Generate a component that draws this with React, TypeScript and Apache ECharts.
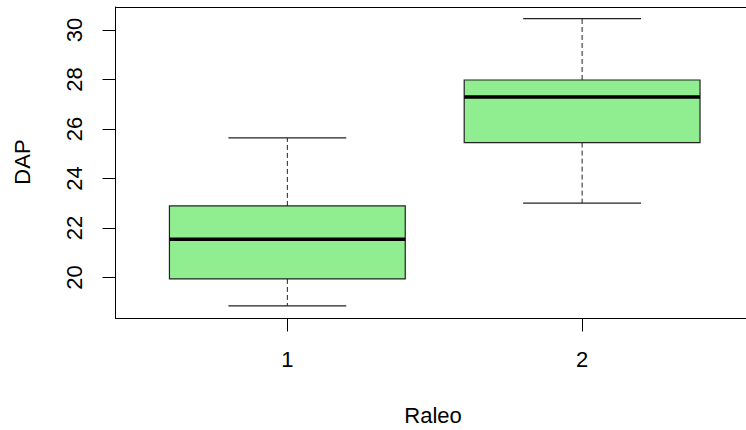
import React, { useEffect, useRef } from "react";
import * as echarts from "echarts";

const groups = [1, 2];
const groupLabels = ["1", "2"];
const mins = [18.85, 23.0];
const q1s = [19.94, 25.45];
const medians = [21.54, 27.29];
const q3s = [22.89, 27.98];
const maxs = [25.64, 30.46];
const yTicks = [20, 22, 24, 26, 28, 30];

const FONT = "'Liberation Sans', Arial, sans-serif";
const X_MIN = 0.417;
const X_MAX = 2.556;

export default function App() {
  const ref = useRef<HTMLDivElement>(null);
  useEffect(() => {
    if (!ref.current) return;
    const chart = echarts.init(ref.current, null, { renderer: "svg" });
    const data = groups.map((g, i) => [g, mins[i], q1s[i], medians[i], q3s[i], maxs[i]]);
    chart.setOption({
      animation: false,
      backgroundColor: "#ffffff",
      grid: {
        left: 115.5,
        right: 0,
        top: 7,
        bottom: 111.5,
        show: false,
      },
      xAxis: [
        {
          type: "value",
          min: X_MIN,
          max: X_MAX,
          position: "bottom",
          axisLine: { show: true, onZero: false, lineStyle: { color: "#000", width: 1 } },
          splitLine: { show: false },
          axisTick: {
            show: true,
            length: 13,
            customValues: groups,
            lineStyle: { color: "#000", width: 1 },
          },
          axisLabel: {
            customValues: groups,
            formatter: (v: number) => groupLabels[groups.indexOf(Math.round(v))] ?? "",
            margin: 30,
            color: "#000",
            fontSize: 22,
            fontFamily: FONT,
          },
        },
        {
          type: "value",
          min: X_MIN,
          max: X_MAX,
          position: "top",
          axisLine: { show: true, onZero: false, lineStyle: { color: "#000", width: 1 } },
          splitLine: { show: false },
          axisTick: { show: false },
          axisLabel: { show: false },
        },
      ],
      yAxis: {
        type: "value",
        min: 18.34,
        max: 30.93,
        axisLine: { show: true, onZero: false, lineStyle: { color: "#000", width: 1 } },
        splitLine: { show: false },
        axisTick: {
          show: true,
          length: 13,
          customValues: yTicks,
          lineStyle: { color: "#000", width: 1 },
        },
        axisLabel: {
          customValues: yTicks,
          rotate: 90,
          margin: 30,
          color: "#000",
          fontSize: 22,
          fontFamily: FONT,
        },
      },
      graphic: [
        {
          type: "text",
          x: 433,
          y: 415,
          style: {
            text: "Raleo",
            fill: "#000",
            fontSize: 22,
            fontFamily: FONT,
            align: "center",
            verticalAlign: "middle",
          },
        },
        {
          type: "text",
          x: 22,
          y: 162,
          rotation: Math.PI / 2,
          style: {
            text: "DAP",
            fill: "#000",
            fontSize: 22,
            fontFamily: FONT,
            align: "center",
            verticalAlign: "middle",
          },
        },
      ],
      series: [
        {
          type: "custom",
          xAxisIndex: 0,
          data,
          clip: false,
          renderItem: (params: any, api: any) => {
            const x = api.value(0);
            const cx = api.coord([x, api.value(1)])[0];
            const yMin = api.coord([x, api.value(1)])[1];
            const yQ1 = api.coord([x, api.value(2)])[1];
            const yMed = api.coord([x, api.value(3)])[1];
            const yQ3 = api.coord([x, api.value(4)])[1];
            const yMax = api.coord([x, api.value(5)])[1];
            const halfW = api.size([0.4, 0])[0];
            const capHalf = halfW / 2;
            const dash = { stroke: "#222", lineWidth: 1, lineDash: [5, 3] };
            const solid = { stroke: "#222", lineWidth: 1.2 };
            return {
              type: "group",
              children: [
                { type: "line", shape: { x1: cx, y1: yQ3, x2: cx, y2: yMax }, style: dash },
                { type: "line", shape: { x1: cx, y1: yQ1, x2: cx, y2: yMin }, style: dash },
                { type: "line", shape: { x1: cx - capHalf, y1: yMax, x2: cx + capHalf, y2: yMax }, style: solid },
                { type: "line", shape: { x1: cx - capHalf, y1: yMin, x2: cx + capHalf, y2: yMin }, style: solid },
                {
                  type: "rect",
                  shape: { x: cx - halfW, y: yQ3, width: halfW * 2, height: yQ1 - yQ3 },
                  style: { fill: "#90EE90", stroke: "#222", lineWidth: 1.2 },
                },
                { type: "line", shape: { x1: cx - halfW, y1: yMed, x2: cx + halfW, y2: yMed }, style: { stroke: "#000", lineWidth: 3.5 } },
              ],
            };
          },
        },
      ],
    });
    return () => chart.dispose();
  }, []);
  return (
    <div
      ref={ref}
      style={{ position: "fixed", left: 0, top: 0, width: 746, height: 430, background: "#fff" }}
    />
  );
}
